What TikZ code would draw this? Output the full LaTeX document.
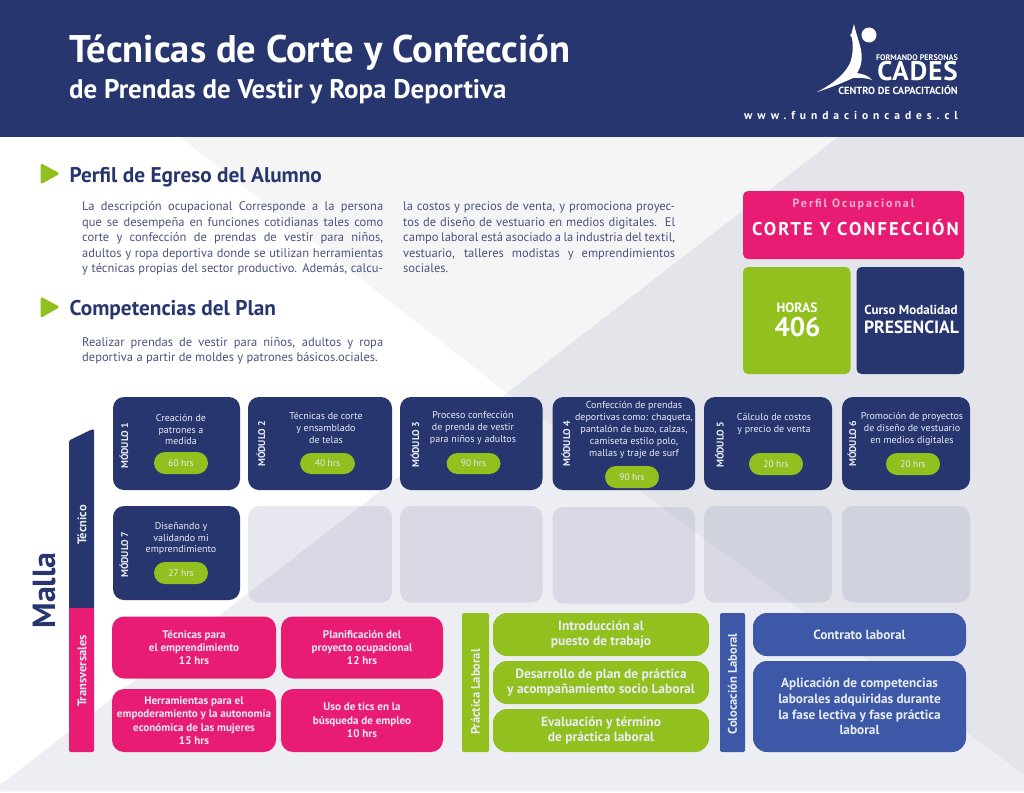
\documentclass[tikz,border=0pt]{standalone}
\usepackage{fontspec}
\setmainfont{PT Sans}
\definecolor{navy}{HTML}{27366E}
\definecolor{pinkc}{HTML}{E81C72}
\definecolor{greenc}{HTML}{92C01F}
\definecolor{bluec}{HTML}{3D58A6}
\definecolor{bodyc}{HTML}{4A5382}
\definecolor{softw}{HTML}{E9EBF4}
\newcommand{\fs}[2]{\fontsize{#1}{#2}\selectfont}
\newcommand{\rb}[7]{\node[#6,minimum width={(#4-#2)*1pt},minimum height={(#5-#3)*1pt}] (#1) at ({(#2+#4)/2},{(#3+#5)/2}) {#7};}
\newcommand{\js}[1]{\makebox[301pt][s]{#1}}
\newcommand{\jt}[1]{\makebox[272pt][s]{#1}}
\tikzset{
 bx/.style={inner sep=0pt,outer sep=0pt,align=center,text=white},
 modbox/.style={bx,fill=navy,rounded corners=11pt},
 emptybox/.style={bx,fill={rgb,255:red,90;green,95;blue,144},fill opacity=.14,rounded corners=11pt},
 pillbox/.style={bx,fill=greenc,rounded corners=11pt,text=softw,font=\fs{9.5}{11}},
 pinkbox/.style={bx,fill=pinkc,rounded corners=12pt,text=softw,font=\bfseries\fs{11.1}{13.4}},
 greenbox/.style={bx,fill=greenc,rounded corners=14pt,text=softw,font=\bfseries\fs{13.4}{15.6}},
 bluebox/.style={bx,fill=bluec,rounded corners=14pt,text=softw,font=\bfseries\fs{13.3}{15.6}},
 panelbox/.style={bx,rounded corners=5pt},
 barbox/.style={bx,rounded corners=1.5pt},
 modtext/.style={inner sep=0pt,align=center,text=softw,font=\fs{10}{11.8}},
 modlabel/.style={inner sep=0pt,rotate=90,text=softw,font=\bfseries\fs{9.8}{10}},
 sidelabel/.style={inner sep=0pt,rotate=90,text=softw,font=\bfseries\fs{12.5}{14}},
 heading/.style={inner sep=0pt,anchor=base west,text=navy,font=\bfseries\fs{21.3}{25}},
 bodytext/.style={inner sep=0pt,anchor=north west,align=left,text=bodyc,font=\fs{12.5}{15.5}},
 bullet/.style={fill=greenc,draw=greenc,line width=3pt,line join=round},
 plain/.style={inner sep=0pt,text=white},
}
\begin{document}
\begin{tikzpicture}[x=1pt,y=-1pt]
\useasboundingbox (0,0) rectangle (1024,792);
% background
\fill[white] (0,0) rectangle (1024,792);
\fill[fill={rgb,255:red,245;green,245;blue,246}] (180,137) -- (838,137) -- (507,393) -- cycle;
\fill[fill={rgb,255:red,228;green,229;blue,235}] (838,137) -- (1024,137) -- (1024,775) -- (507,393) -- cycle;
\fill[fill={rgb,255:red,237;green,238;blue,243}] (0,785) -- (507,393) -- (1024,775) -- (1024,790) -- (0,790) -- cycle;
\fill[fill={rgb,255:red,245;green,245;blue,248}] (0,790) rectangle (1024,792);
% header
\fill[navy] (0,0) rectangle (1024,137);
\node[plain,anchor=base west,font=\bfseries\fs{38.5}{42}] (title) at (69,63) {Técnicas de Corte y Confección};
\node[plain,anchor=base west,font=\bfseries\fs{26.9}{30}] (subtitle) at (69,98) {de Prendas de Vestir y Ropa Deportiva};
% logo
\fill[white] (869,35) circle (7.5);
\fill[white] (817,92) .. controls (835,83) and (850,70) .. (852,56) .. controls (853,50) and (853,44) .. (852,38) -- (850,35) -- (851.5,33.5) .. controls (852.5,30) and (853,27) .. (854,24) .. controls (855,30) and (858,38) .. (860,46) .. controls (863,56) and (862,66) .. (857,73) .. controls (863,74) and (869,76) .. (872,80) .. controls (867,78) and (860,77.5) .. (853,78) .. controls (842,83) and (830,88) .. (817,92) -- cycle;
\node[plain,anchor=base east,font=\bfseries\fs{8.1}{8}] (lg1) at (958,60) {FORMANDO PERSONAS};
\node[plain,anchor=base east,font=\bfseries\fs{27}{20}] (lg2) at (958,80.5) {\addfontfeature{LetterSpace=4}CADES};
\node[plain,anchor=base east,font=\bfseries\fs{10.4}{10}] (lg3) at (958,94.5) {CENTRO DE CAPACITACIÓN};
\node[plain,anchor=base east,font=\bfseries\fs{11.5}{12}] (lg4) at (958,119) {\addfontfeature{LetterSpace=43}www.fundacioncades.cl};
% sections
\fill[bullet] (42,165.5) -- (57,173.5) -- (42,182) -- cycle;
\node[heading] (h1) at (69.5,182) {Perfil de Egreso del Alumno};
\node[bodytext] (p1) at (82,201.7) {\js{La descripción ocupacional Corresponde a la persona}\\\js{que se desempeña en funciones cotidianas tales como}\\\js{corte y confección de prendas de vestir para niños,}\\\js{adultos y ropa deportiva donde se utilizan herramientas}\\\js{y técnicas propias del sector productivo. Además, calcu-}};
\node[bodytext] (p2) at (403,201.7) {\jt{la costos y precios de venta, y promociona proyec-}\\\jt{tos de diseño de vestuario en medios digitales.\ \ El}\\\jt{campo laboral está asociado a la industria del textil,}\\\jt{vestuario, talleres modistas y emprendimientos}\\sociales.};
\fill[bullet] (42,299) -- (57,307) -- (42,315.5) -- cycle;
\node[heading] (h2) at (69.5,315) {Competencias del Plan};
\node[bodytext] (p3) at (82,337) {\js{Realizar prendas de vestir para niños, adultos y ropa}\\deportiva a partir de moldes y patrones básicos.ociales.};
% right panel
\rb{pp}{743}{191}{964}{259}{panelbox,fill=pinkc}{}
\node[inner sep=0pt,anchor=base,text={rgb,255:red,246;green,178;blue,207},font=\bfseries\fs{12}{13}] (pp1) at (853.5,207) {\addfontfeature{LetterSpace=16}Perfil Ocupacional};
\node[plain,anchor=base,font=\bfseries\fs{18.5}{20}] (pp2) at (855.5,235) {\addfontfeature{LetterSpace=11}CORTE Y CONFECCIÓN};
\rb{hr}{743}{267}{850.5}{374}{panelbox,fill=greenc}{}
\node[plain,anchor=base,font=\bfseries\fs{13.5}{15}] (hr1) at (797,312) {HORAS};
\node[plain,anchor=base,font=\bfseries\fs{27}{30}] (hr2) at (797.5,336) {406};
\rb{cm}{856.5}{267}{964}{374}{panelbox,fill=navy}{}
\node[plain,anchor=base,font=\bfseries\fs{13}{15}] (cm1) at (911,314) {Curso Modalidad};
\node[plain,anchor=base,font=\bfseries\fs{17.7}{18}] (cm2) at (911.5,333) {PRESENCIAL};
% side bar
\fill[navy] (69,442) -- (69,442) .. controls (69,441) and (69.5,440.5) .. (70,440) -- (91,429.8) .. controls (93,429) and (94,429) .. (94,431) -- (94,608) -- (69,608) -- cycle;
\path[fill=pinkc,rounded corners=1.5pt] (69,608) -- (94,608) -- (94,752) -- (69,752) -- cycle;
\fill[pinkc] (69,608) rectangle (94,612);
\coordinate (barT) at (82,525);
\node[sidelabel] (lt) at (barT) {Técnico};
\node[sidelabel] (ltr) at (82,671) {Transversales};
\node[inner sep=0pt,rotate=90,text=navy,font=\bfseries\fs{32}{34}] (malla) at (45,590.5) {Malla};
% modules row 1
\rb{m1}{113}{397}{240}{490}{modbox}{}
\rb{m2}{248}{397}{392}{490}{modbox}{}
\rb{m3}{400}{397}{542.5}{490}{modbox}{}
\rb{m4}{552.5}{397}{695}{490}{modbox}{}
\rb{m5}{704}{397}{832}{490}{modbox}{}
\rb{m6}{842}{397}{970}{490}{modbox}{}
\node[modlabel] (l1) at (124,446) {MÓDULO 1};
\node[modlabel] (l2) at (261,444) {MÓDULO 2};
\node[modlabel] (l3) at (415,445) {MÓDULO 3};
\node[modlabel] (l4) at (566,444) {MÓDULO 4};
\node[modlabel] (l5) at (719.5,445) {MÓDULO 5};
\node[modlabel] (l6) at (852,444) {MÓDULO 6};
\node[modtext] (t1) at (181,429.5) {Creación de\\patrones a\\medida};
\node[modtext] (t2) at (326,428) {Técnicas de corte\\y ensamblado\\de telas};
\node[modtext] (t3) at (473,428) {Proceso confección\\de prenda de vestir\\para niños y adultos};
\node[modtext] (t4) at (634,430) {Confección de prendas\\deportivas como: chaqueta,\\pantalón de buzo, calzas,\\camiseta estilo polo,\\mallas y traje de surf};
\node[modtext] (t5) at (774,424) {Cálculo de costos\\y precio de venta};
\node[modtext] (t6) at (912,429) {Promoción de proyectos\\de diseño de vestuario\\en medios digitales};
\rb{p1a}{154}{452}{208}{474}{pillbox}{60 hrs}
\rb{p2a}{300}{453}{355}{474}{pillbox}{40 hrs}
\rb{p3a}{446.5}{453}{500.5}{474}{pillbox}{90 hrs}
\rb{p4a}{605}{466}{659}{488}{pillbox}{90 hrs}
\rb{p5a}{749}{453}{803}{475}{pillbox}{20 hrs}
\rb{p6a}{886}{453}{940}{475}{pillbox}{20 hrs}
% row 2
\rb{m7}{113}{506}{240}{600}{modbox}{}
\node[modlabel] (l7) at (124,555) {MÓDULO 7};
\node[modtext] (t7) at (181,538.5) {Diseñando y\\validando mi\\emprendimiento};
\rb{p7a}{154}{562}{208}{584}{pillbox}{27 hrs}
\rb{e2}{248}{506}{392}{602.5}{emptybox}{}
\rb{e3}{400}{506}{542.5}{602.5}{emptybox}{}
\rb{e4}{552.5}{507}{695}{603.5}{emptybox}{}
\rb{e5}{704}{506}{832}{602.5}{emptybox}{}
\rb{e6}{842}{506}{970}{602.5}{emptybox}{}
% transversales
\rb{b1}{112}{616}{276}{678}{pinkbox,yshift=-0.5pt}{Técnicas para\\el emprendimiento\\12 hrs}
\rb{b2}{281}{616}{443}{678}{pinkbox,yshift=-0.5pt}{Planificación del\\proyecto ocupacional\\12 hrs}
\rb{b3}{112}{689}{276}{752}{pinkbox}{Herramientas para el\\empoderamiento y la autonomía\\económica de las mujeres\\15 hrs}
\rb{b4}{281}{689}{443}{752}{pinkbox}{Uso de tics en la\\búsqueda de empleo\\10 hrs}
% practica
\rb{pb}{462}{613}{489}{752}{barbox,fill=greenc}{}
\node[sidelabel] (pbl) at (475.5,692) {Práctica Laboral};
\rb{g1}{493}{613}{709}{656}{greenbox}{Introducción al\\puesto de trabajo}
\rb{g2}{493}{661}{709}{704}{greenbox}{Desarrollo de plan de práctica\\y acompañamiento socio Laboral}
\rb{g3}{493}{709}{709}{752}{greenbox}{Evaluación y término\\de práctica laboral}
% colocacion
\rb{cb}{720}{613}{745}{752}{barbox,fill=bluec}{}
\node[sidelabel] (cbl) at (732.5,684) {Colocación Laboral};
\rb{bl1}{753}{613}{966}{656}{bluebox}{Contrato laboral}
\rb{bl2}{753}{661}{966}{752}{bluebox}{Aplicación de competencias\\laborales adquiridas durante\\la fase lectiva y fase práctica\\laboral}
\end{tikzpicture}
\end{document}
